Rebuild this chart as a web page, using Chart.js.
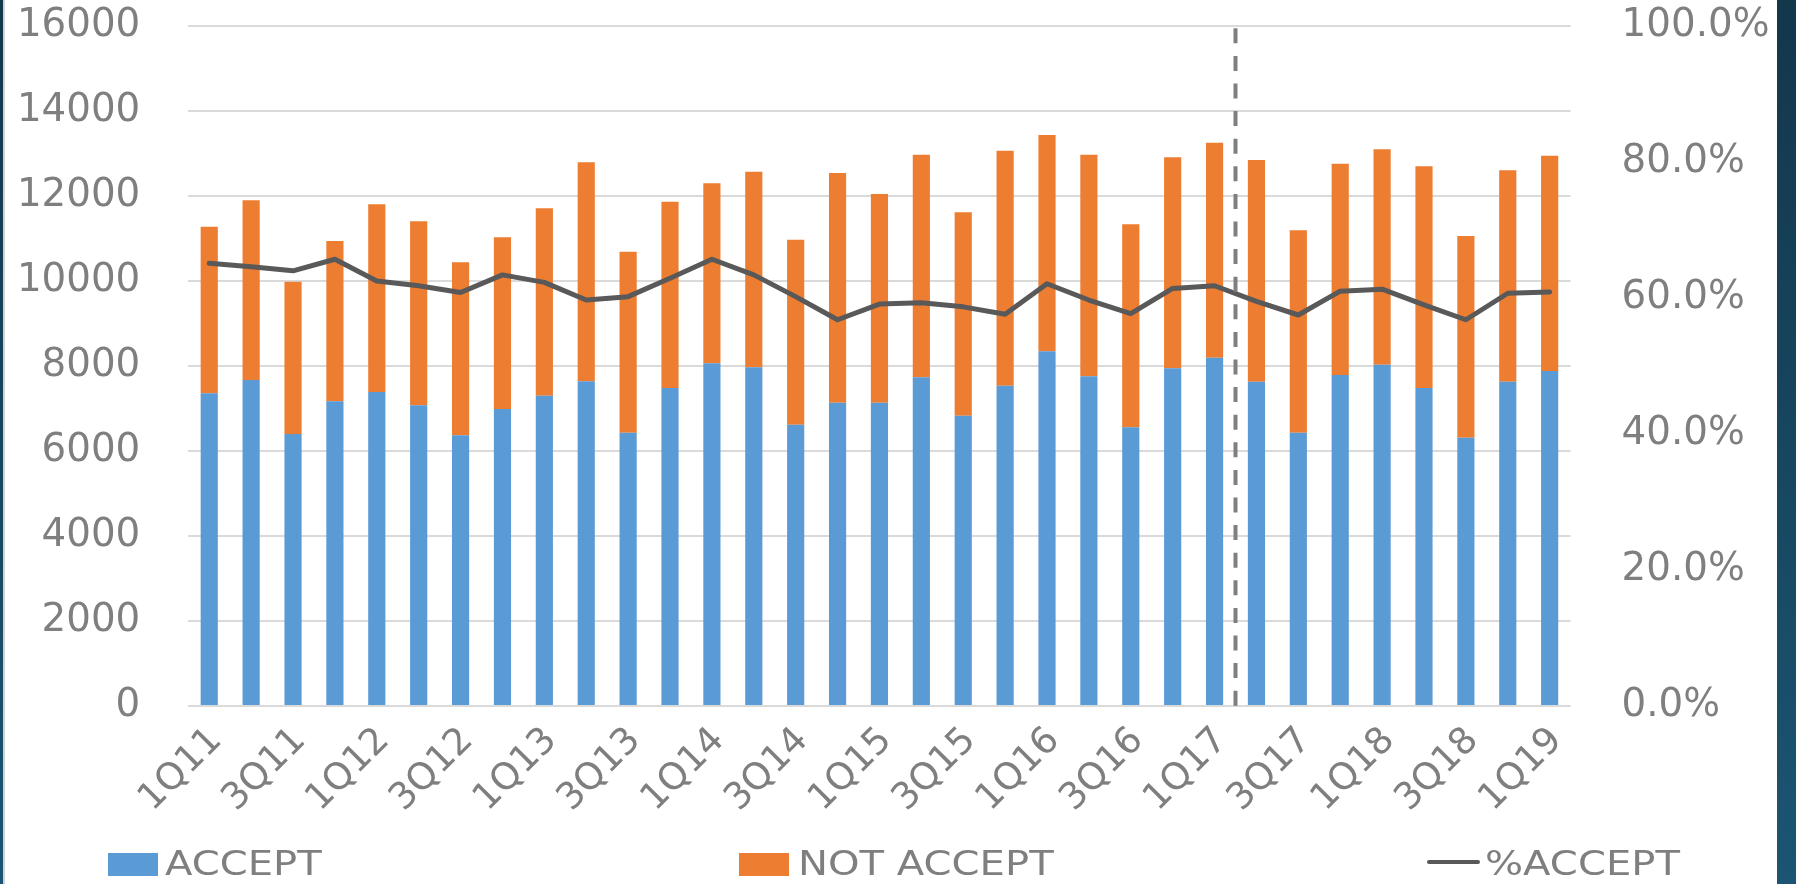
<!DOCTYPE html>
<html>
<head>
<meta charset="utf-8">
<script src="https://cdn.jsdelivr.net/npm/chart.js@4.4.1/dist/chart.umd.min.js"></script>
<style>
  html, body { margin:0; padding:0; width:1796px; height:884px; overflow:hidden;
    background: linear-gradient(180deg, #13374b 0%, #1b5573 100%); }
  #panel { position:absolute; left:3px; top:0; width:1774px; height:884px; background:#ffffff;
    border-left:2px solid #cfd3d6; box-sizing:border-box; }
  #c { position:absolute; left:0; top:0; }
  .leg { position:absolute; top:846px; height:34px; line-height:34px; font-family:'DejaVu Sans';
    font-size:34px; color:#7f7f7f; white-space:nowrap; transform-origin:0 50%; transform:scaleX(1.18); }
  .sw { position:absolute; }
</style>
</head>
<body>
<div id="panel"></div>
<canvas id="c" width="1796" height="884"></canvas>
<div id="legend"></div>
<script>
// ---- data ----
const categories = ['1Q11','2Q11','3Q11','4Q11','1Q12','2Q12','3Q12','4Q12','1Q13','2Q13','3Q13','4Q13',
  '1Q14','2Q14','3Q14','4Q14','1Q15','2Q15','3Q15','4Q15','1Q16','2Q16','3Q16','4Q16',
  '1Q17','2Q17','3Q17','4Q17','1Q18','2Q18','3Q18','4Q18','1Q19'];
const accept = [7357,7671,6400,7169,7388,7075,6369,6988,7302,7639,6431,7482,
  8063,7969,6620,7137,7137,7733,6831,7537,8345,7757,6557,7945,
  8196,7631,6431,7788,8031,7482,6314,7631,7882];
const notAccept = [3921,4227,3584,3772,4416,4329,4070,4039,4408,5153,4259,4385,
  4235,4604,4353,5404,4910,5240,4785,5530,5090,5216,4776,4965,
  5059,5216,4761,4973,5067,5216,4745,4973,5067];
const pctAccept = [65.1,64.6,64.0,65.7,62.5,61.8,60.8,63.4,62.3,59.7,60.2,62.9,
  65.7,63.4,60.2,56.8,59.1,59.3,58.7,57.6,62.1,59.7,57.7,61.4,
  61.8,59.5,57.5,61.0,61.3,59.0,56.8,60.7,60.9];
const seriesNames = ['ACCEPT','NOT ACCEPT','%ACCEPT'];
const leftAxisMax = 16000, leftAxisStep = 2000;
const rightAxisMax = 100, rightAxisStep = 20;
const dividerAfter = '1Q17';

// ---- styles ----
const BLUE = '#5b9bd5', ORANGE = '#ed7d31', LINE = '#595959', TXT = '#7f7f7f';
const FONT = 'DejaVu Sans';

const dividerPlugin = {
  id: 'divider',
  afterDatasetsDraw(chart) {
    const { ctx, chartArea, scales } = chart;
    const idx = categories.indexOf(dividerAfter);
    const px = scales.x.getPixelForValue(idx + 0.5);
    ctx.save();
    ctx.strokeStyle = '#7f7f7f';
    ctx.lineWidth = 4;
    ctx.setLineDash([15, 12.6]);
    ctx.beginPath();
    ctx.moveTo(px, chartArea.top + 2.3);
    ctx.lineTo(px, chartArea.bottom);
    ctx.stroke();
    ctx.restore();
  }
};

const noPad = s => { s.paddingTop = 0; s.paddingBottom = 0; s.paddingLeft = 0; s.paddingRight = 0; };

new Chart(document.getElementById('c'), {
  type: 'bar',
  data: {
    labels: categories,
    datasets: [
      { type:'line', label: seriesNames[2], data: pctAccept, yAxisID:'y1', borderColor: LINE,
        backgroundColor: LINE, borderWidth: 5, pointRadius: 0, tension: 0, order: 0,
        borderJoinStyle:'round', borderCapStyle:'round' },
      { label: seriesNames[0], data: accept, backgroundColor: BLUE, yAxisID:'y', order: 1 },
      { label: seriesNames[1], data: notAccept, backgroundColor: ORANGE, yAxisID:'y', order: 1 }
    ]
  },
  options: {
    responsive: false, animation: false, devicePixelRatio: 1,
    layout: { padding: { top: 26, left: 0, right: 0, bottom: 0 } },
    plugins: { legend: { display: false }, tooltip: { enabled: false } },
    datasets: { bar: { categoryPercentage: 1, barPercentage: 0.41 } },
    scales: {
      x: {
        stacked: true,
        grid: { display: false, drawTicks: false },
        border: { display: false },
        ticks: { autoSkip: false, minRotation: 45, maxRotation: 45, padding: 13, labelOffset: 7, color: TXT,
          font: { family: FONT, size: 37 },
          callback: (v, i) => (i % 2 === 0 ? categories[i] : '') },
        afterFit: s => { s.height = 884 - 706; noPad(s); }
      },
      y: {
        stacked: true, position: 'left', min: 0, max: leftAxisMax,
        ticks: { stepSize: leftAxisStep, padding: 48, color: TXT, font: { family: FONT, size: 38.8 },
          callback: v => String(v) },
        grid: { color: '#dadada', lineWidth: 2, drawTicks: false },
        border: { display: false },
        afterFit: s => { s.width = 188.3; noPad(s); }
      },
      y1: {
        position: 'right', min: 0, max: rightAxisMax,
        ticks: { stepSize: rightAxisStep, padding: 51, color: TXT, font: { family: FONT, size: 38.8 },
          callback: v => v.toFixed(1) + '%' },
        grid: { display: false, drawTicks: false },
        border: { display: false },
        afterFit: s => { s.width = 1796 - 1570.6; noPad(s); }
      }
    }
  },
  plugins: [dividerPlugin]
});

// ---- HTML legend ----
const legend = document.getElementById('legend');
const legendItems = [
  { name: seriesNames[0], kind: 'box', color: BLUE, symX: 108, textX: 165 },
  { name: seriesNames[1], kind: 'box', color: ORANGE, symX: 739, textX: 798 },
  { name: seriesNames[2], kind: 'line', color: LINE, symX: 1427, textX: 1485 }
];
legendItems.forEach(it => {
  const s = document.createElement('div');
  s.className = 'sw';
  if (it.kind === 'box') {
    Object.assign(s.style, { left: it.symX + 'px', top: '853px', width: '50px', height: '23px', background: it.color });
  } else {
    Object.assign(s.style, { left: it.symX + 'px', top: '860px', width: '53px', height: '4px', background: it.color, borderRadius: '2px' });
  }
  legend.appendChild(s);
  const t = document.createElement('div');
  t.className = 'leg';
  t.style.left = it.textX + 'px';
  t.textContent = it.name;
  legend.appendChild(t);
});
</script>
</body>
</html>
